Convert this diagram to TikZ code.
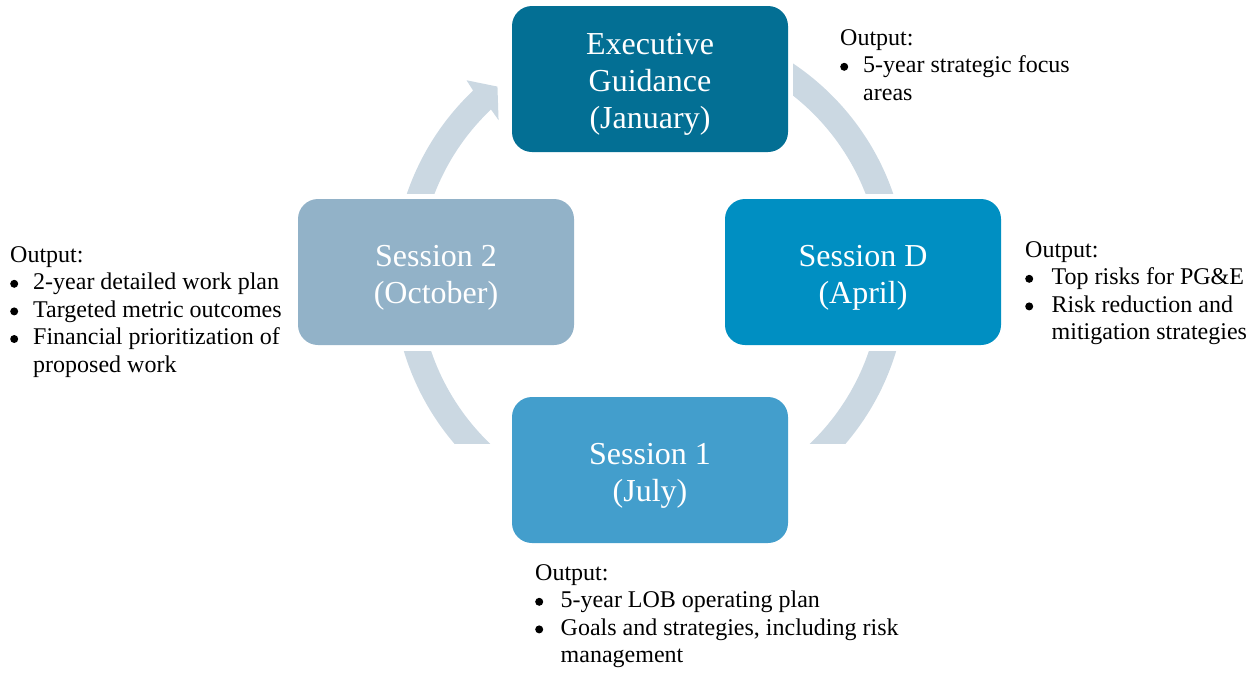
\documentclass[tikz,border=0pt]{standalone}
\usepackage{fontspec}
\setmainfont{Liberation Serif}
\definecolor{execblue}{HTML}{036F94}
\definecolor{aprilblue}{HTML}{008FC2}
\definecolor{julyblue}{HTML}{439ECC}
\definecolor{octblue}{HTML}{92B2C8}
\definecolor{ringgrey}{HTML}{CBD8E2}
% round bullet followed by a cell of the given width
\newcommand{\outbullet}[1]{\makebox[#1][l]{\tikz[baseline=0pt]\fill (4pt,5.8pt) circle[radius=4pt];}}
\begin{document}
\begin{tikzpicture}[x=1pt,y=-1pt,
  phase/.style={rounded corners=20pt, minimum width=276pt, minimum height=146pt,
    inner sep=0pt},
  phasetext/.style={inner sep=0pt, text=white, align=center,
    font=\fontsize{32pt}{37pt}\selectfont},
  outnote/.style={anchor=base west, inner sep=0pt, text=black,
    font=\fontsize{24pt}{27.6pt}\selectfont},
  ringfill/.style={fill=ringgrey, even odd rule}]
\useasboundingbox (0,0) rectangle (1258,672);

% centre of the cycle ring
\coordinate (c) at (650,277);

\begin{scope}[shift={(c)}]
  % upper-left arc ending in the arrowhead
  \begin{scope}
    \clip (-300pt,84pt) rectangle (0pt,300pt);
    \fill[ringgrey] (165:257pt) arc[start angle=165, end angle=133.5, radius=257pt]
      -- (133:269pt) -- (128.7:244pt) -- (134:218pt) -- (133.5:231pt)
      arc[start angle=133.5, end angle=165, radius=231pt] -- cycle;
  \end{scope}
  % upper-right arc
  \begin{scope}
    \clip (143pt,84pt) rectangle (300pt,300pt);
    \fill[ringfill] (0pt,0pt) circle[radius=257pt] (0pt,0pt) circle[radius=231pt];
  \end{scope}
  % lower-right arc
  \begin{scope}
    \clip (0pt,-74pt) rectangle (300pt,-166pt);
    \fill[ringfill] (0pt,0pt) circle[radius=257pt] (0pt,0pt) circle[radius=231pt];
  \end{scope}
  % lower-left arc
  \begin{scope}
    \clip (-300pt,-74pt) rectangle (0pt,-166pt);
    \fill[ringfill] (0pt,0pt) circle[radius=257pt] (0pt,0pt) circle[radius=231pt];
  \end{scope}
\end{scope}

% planning phases
\node[phase, fill=execblue]  (exec)  at (650,79)  {};
\node[phase, fill=aprilblue] (sessD) at (863,272) {};
\node[phase, fill=julyblue]  (sess1) at (650,470) {};
\node[phase, fill=octblue]   (sess2) at (436,272) {};
\node[phasetext] (execText)  at ([yshift=-5.5pt]exec.center)  {Executive\\Guidance\\(January)};
\node[phasetext] (sessDText) at ([yshift=-5.5pt]sessD.center) {Session D\\(April)};
\node[phasetext] (sess1Text) at ([yshift=-5.5pt]sess1.center) {Session 1\\(July)};
\node[phasetext] (sess2Text) at ([yshift=-5.5pt]sess2.center) {Session 2\\(October)};

% outputs of each phase
\node[outnote] (outExec) at (840,45) {\begin{tabular}[t]{@{}l@{}l@{}}
  \multicolumn{2}{@{}l@{}}{Output:}\\
  \outbullet{23pt} & 5-year strategic focus\\
  & areas
\end{tabular}};
\node[outnote] (outD) at (1025,257) {\begin{tabular}[t]{@{}l@{}l@{}}
  \multicolumn{2}{@{}l@{}}{Output:}\\
  \outbullet{26.5pt} & Top risks for PG\&E\\
  \outbullet{26.5pt} & Risk reduction and\\
  & mitigation strategies
\end{tabular}};
\node[outnote] (out1) at (535,580) {\begin{tabular}[t]{@{}l@{}l@{}}
  \multicolumn{2}{@{}l@{}}{Output:}\\
  \outbullet{25.5pt} & 5-year LOB operating plan\\
  \outbullet{25.5pt} & Goals and strategies, including risk\\
  & management
\end{tabular}};
\node[outnote] (out2) at (10,262) {\begin{tabular}[t]{@{}l@{}l@{}}
  \multicolumn{2}{@{}l@{}}{Output:}\\
  \outbullet{23pt} & 2-year detailed work plan\\
  \outbullet{23pt} & Targeted metric outcomes\\
  \outbullet{23pt} & Financial prioritization of\\
  & proposed work
\end{tabular}};
\end{tikzpicture}
\end{document}
